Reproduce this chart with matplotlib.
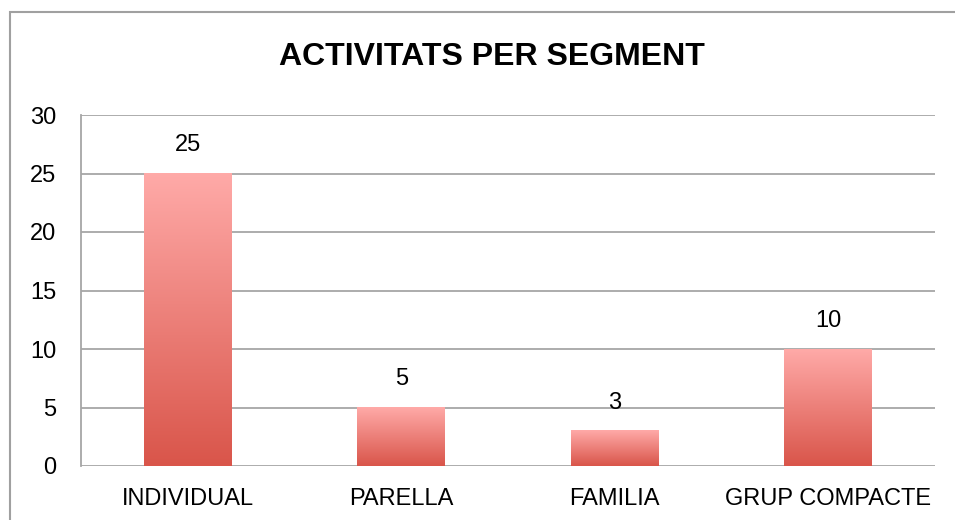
import matplotlib
matplotlib.use("Agg")
import matplotlib.pyplot as plt
import matplotlib.patches as patch
from matplotlib.colors import LinearSegmentedColormap
import numpy as np

plt.rcParams['font.family'] = ['Liberation Sans', 'DejaVu Sans']

categories = ["INDIVIDUAL", "PARELLA", "FAMILIA", "GRUP COMPACTE"]
values = [25, 5, 3, 10]
yticks = [0, 5, 10, 15, 20, 25, 30]

fig = plt.figure(figsize=(9.55, 5.2), dpi=100)
# outer chart border
fig.patches.append(patch.Rectangle((10/955, -0.1), 1.2, 0.1 + (520-12)/520,
                                   transform=fig.transFigure, fill=False,
                                   edgecolor="#a0a0a0", lw=1.5))

ax = fig.add_axes([81/955, (520-466)/520, (935-81)/955, (466-115)/520])

cmap = LinearSegmentedColormap.from_list("bar", ["#d9554a", "#ffaaa8"])
grad = np.linspace(0, 1, 256).reshape(-1, 1)
w = 0.41
for i, v in enumerate(values):
    ax.imshow(grad, extent=(i - w/2, i + w/2, 0, v), origin="lower",
              aspect="auto", cmap=cmap, zorder=3)
    ax.text(i, v + 2.4, str(v), ha="center", va="center", fontsize=17)

ax.set_xlim(-0.5, len(categories) - 0.5)
ax.set_ylim(0, 30)
ax.set_yticks(yticks)
ax.yaxis.grid(True, color="#a6a6a6", lw=1.3)
ax.set_axisbelow(True)
ax.set_xticks(range(len(categories)))
ax.set_xticklabels(categories)
ax.tick_params(axis="both", length=0, labelsize=17)
ax.tick_params(axis="x", pad=16)
ax.tick_params(axis="y", pad=18)
for s in ["top", "right", "bottom"]:
    ax.spines[s].set_visible(False)
ax.spines["left"].set_color("#a6a6a6")
ax.spines["left"].set_linewidth(1.3)

fig.text(492/955, 1 - 57/520, "ACTIVITATS PER SEGMENT", ha="center",
         va="center", fontsize=23, fontweight="bold")

fig.savefig("out.png", dpi=100)
